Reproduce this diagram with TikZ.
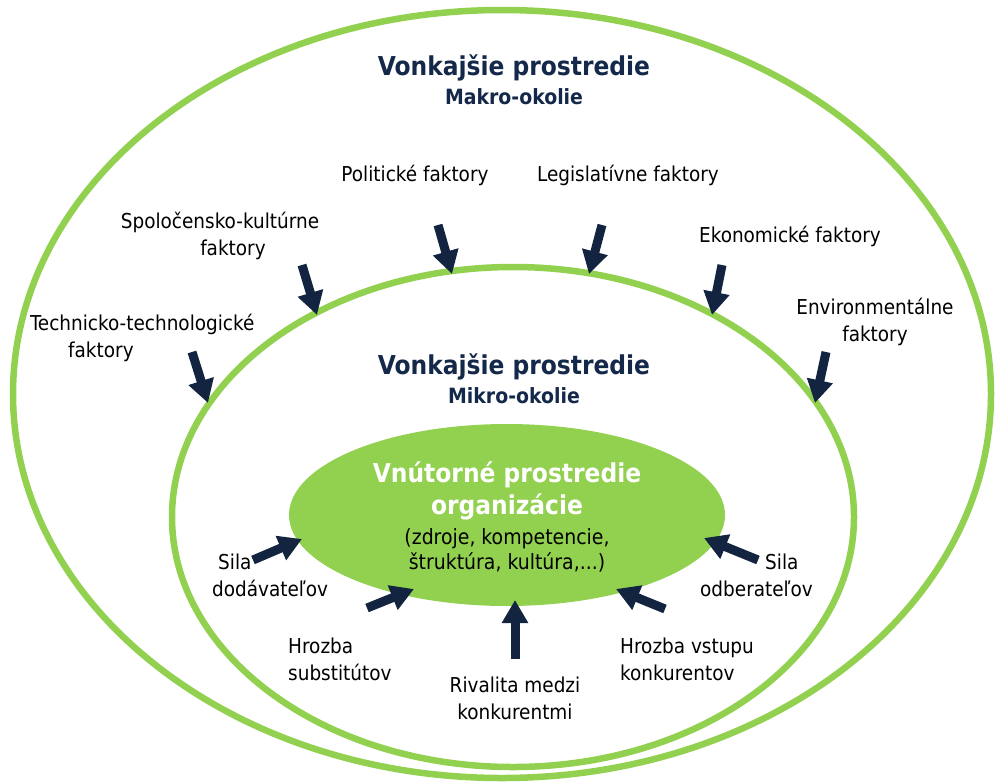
\documentclass[tikz,border=0pt]{standalone}
\usepackage{fontspec}
\setmainfont{DejaVu Sans Condensed}
\usetikzlibrary{arrows.meta}
\definecolor{lgreen}{HTML}{92D050}
\definecolor{navy}{HTML}{12243F}
\definecolor{headnavy}{HTML}{14284A}
\begin{document}
\begin{tikzpicture}[x=1pt,y=-1pt,
  ring/.style={draw=lgreen, line width=6.5pt},
  arr/.style={draw=navy, fill=navy, line width=9pt, -{Triangle[width=25pt,length=23pt]}},
  lbl/.style={inner sep=0pt, font=\fontsize{20.5}{27}\selectfont, text=black},
  head/.style={inner sep=0pt, font=\bfseries\fontsize{26}{30}\selectfont, text=headnavy},
  sub/.style={inner sep=0pt, font=\bfseries\fontsize{21}{24}\selectfont, text=headnavy}]
\useasboundingbox (0,0) rectangle (995,782);
% ellipses
\draw[ring] (502,394) ellipse [x radius=489, y radius=384];
\draw[ring] (513,517) ellipse [x radius=341, y radius=250];
\fill[lgreen] (507,515) ellipse [x radius=218, y radius=91];
% headings
\node[head] (h1) at (514,68) {Vonkajšie prostredie};
\node[sub] (s1) at (514,97) {Makro-okolie};
\node[head] (h2) at (514,367) {Vonkajšie prostredie};
\node[sub] (s2) at (514,396) {Mikro-okolie};
\node[inner sep=0pt, text=white, font=\bfseries\fontsize{26}{32}\selectfont, align=center] (in1) at (507,491) {Vnútorné prostredie\\organizácie};
\node[lbl, align=center, font=\fontsize{21}{25}\selectfont] (in2) at (507,550) {(zdroje, kompetencie,\\štruktúra, kultúra,...)};
% macro labels
\node[lbl] (pol) at (415,175) {Politické faktory};
\node[lbl] (leg) at (628,175) {Legislatívne faktory};
\node[lbl, align=center] (spo) at (220,236) {Spoločensko-kultúrne\\\hspace*{26pt}faktory};
\node[lbl] (eko) at (790,236) {Ekonomické faktory};
\node[lbl, align=left, anchor=north west] (tec) at (30,314) {Technicko-technologické\\\hspace*{38pt}faktory};
\node[lbl, align=center] (env) at (875,322) {Environmentálne\\faktory};
% micro labels
\node[lbl, align=left, anchor=north west] (dod) at (212,554) {\hspace*{6pt}Sila\\dodávateľov};
\node[lbl, align=left, anchor=north west] (sub) at (288,638) {Hrozba\\substitútov};
\node[lbl, align=center] (riv) at (515,698) {Rivalita medzi\\konkurentmi};
\node[lbl, align=left, anchor=north west] (vst) at (620,638) {Hrozba vstupu\\konkurentov};
\node[lbl, align=left, anchor=north west] (odb) at (700,554) {\hspace*{65pt}Sila\\odberateľov};
% arrow coordinates
\coordinate (a1s) at (438,225); \coordinate (a1e) at (452,274);
\coordinate (a2s) at (602,225); \coordinate (a2e) at (589,274);
\coordinate (a3s) at (302,265); \coordinate (a3e) at (317,315);
\coordinate (a4s) at (722,265); \coordinate (a4e) at (712,315);
\coordinate (a5s) at (192,352); \coordinate (a5e) at (208,403);
\coordinate (a6s) at (826,352); \coordinate (a6e) at (815,403);
\coordinate (b1s) at (253,560); \coordinate (b1e) at (302,539);
\coordinate (b2s) at (367,608); \coordinate (b2e) at (414,589);
\coordinate (b3s) at (515,659); \coordinate (b3e) at (515,600);
\coordinate (b4s) at (665,609); \coordinate (b4e) at (616,589);
\coordinate (b5s) at (758,560); \coordinate (b5e) at (704,538);
\foreach \s/\e in {a1s/a1e,a2s/a2e,a3s/a3e,a4s/a4e,a5s/a5e,a6s/a6e,b1s/b1e,b2s/b2e,b3s/b3e,b4s/b4e,b5s/b5e}
  \draw[arr] (\s) -- (\e);
\end{tikzpicture}
\end{document}
